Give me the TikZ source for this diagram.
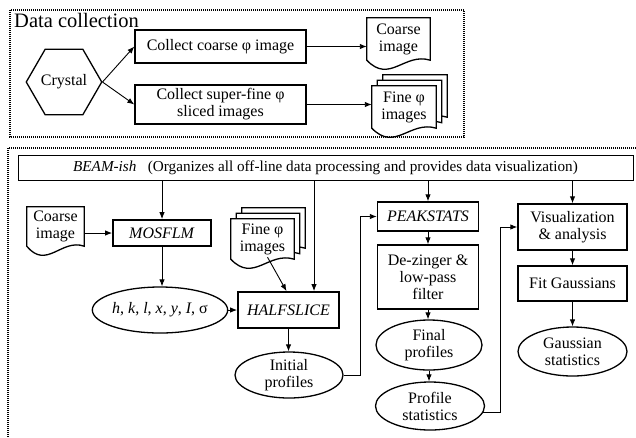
\documentclass[tikz,border=0pt]{standalone}
\usepackage{fontspec}
\setmainfont{Liberation Serif}
\usetikzlibrary{arrows.meta,calc,shapes.geometric,backgrounds}

% sheet with a wavy lower edge around node #1, moved by #2
\newcommand\pagepath[2]{($(#1.north west)+(#2)$) -- ($(#1.north east)+(#2)$) -- ($(#1.south east)+(#2)$) .. controls ($(#1.south)+(#2)+(6,-8)$) and ($(#1.south)+(#2)+(-9,24)$) .. ($(#1.south west)+(#2)$) -- cycle}

\begin{document}
\begin{tikzpicture}[x=1pt,y=-1pt,>={Latex[length=7pt,width=5.5pt]},
  font=\fontsize{16}{17}\selectfont,
  frame/.style={line width=1.3pt,dash pattern=on 1pt off 1pt},
  box/.style={draw,line width=1.4pt,align=center,inner sep=0pt},
  oval/.style={draw,ellipse,line width=1.3pt,align=center,inner sep=0pt},
  page/.style={align=center,inner sep=0pt},
  sheet/.style={draw,fill=white,line width=1.3pt},
  link/.style={->,line width=0.9pt}]

\useasboundingbox (0,0) rectangle (636,437);

% data collection
\draw[frame] (10,10) rectangle (464,137);
\node[anchor=base west,inner sep=0pt,font=\fontsize{20.5}{22}\selectfont] (title) at (14,27) {Data collection};
\node[draw,regular polygon,regular polygon sides=6,minimum size=63pt,inner sep=0pt,line width=1.3pt] (crystal) at (64,82) {Crystal};
\node[box,minimum width=171pt,minimum height=33pt] (coarse) at (220.5,46.5) {Collect coarse φ image};
\node[box,minimum width=171pt,minimum height=39pt] (fine) at (220.5,104.5) {Collect super-fine φ\\sliced images};
\node[page,minimum width=63pt,minimum height=42pt] (cimg) at (398.5,39) {Coarse\\image};
\node[page,minimum width=64pt,minimum height=42pt] (fimg) at (404,107) {Fine φ\\images};

\draw[link] (crystal.east) -- (coarse.west);
\draw[link] (crystal.east) -- (fine.west);
\draw[link] (coarse.east) -- (coarse.east -| cimg.west);
\draw[link] (fine.east) -- (fine.east -| fimg.west);

% off-line processing
\draw[frame] (640,148) -| (8,440);
\node[box,line width=1pt,minimum width=615pt,minimum height=25pt,font=\fontsize{15.2}{17}\selectfont] (beam) at (325.5,167.5) {\textit{BEAM-ish}\hspace{0.5em} (Organizes all off-line data processing and provides data visualization)};
\node[page,minimum width=57pt,minimum height=39pt] (ci2) at (55.5,226.5) {Coarse\\image};
\node[box,line width=1.8pt,minimum width=98pt,minimum height=26pt] (mosflm) at (162,233) {\textit{MOSFLM}};
\node[page,minimum width=63pt,minimum height=40pt] (fi2) at (262.5,239) {Fine φ\\images};
\node[oval,minimum width=117pt,minimum height=46pt] (hkl) at (160,310) {\textit{h}, \textit{k}, \textit{l}, \textit{x}, \textit{y}, \textit{I}, σ};
\node[box,line width=1.8pt,minimum width=101pt,minimum height=36pt] (half) at (288.5,310) {\textit{HALFSLICE}};
\node[oval,minimum width=108pt,minimum height=46pt] (init) at (289,375) {Initial\\profiles};
\node[box,minimum width=101pt,minimum height=29pt] (peak) at (428,216.5) {\textit{PEAKSTATS}};
\node[box,minimum width=101pt,minimum height=64pt] (dez) at (428,277) {De-zinger \&\\low-pass\\filter};
\node[oval,minimum width=106pt,minimum height=50pt] (final) at (429,345) {Final\\profiles};
\node[oval,minimum width=109pt,minimum height=48pt] (prof) at (430,406) {Profile\\statistics};
\node[box,minimum width=109pt,minimum height=46pt] (vis) at (572.5,227) {Visualization\\\& analysis};
\node[box,minimum width=109pt,minimum height=35pt] (fit) at (572.5,283.5) {Fit Gaussians};
\node[oval,minimum width=109pt,minimum height=49pt] (gauss) at (572.5,351.5) {Gaussian\\statistics};

\coordinate (hsin) at ($(half.north)+(25.5,0)$);
\draw[link] (beam.south -| mosflm.north) -- (mosflm.north);
\draw[link] (beam.south -| hsin) -- (hsin);
\draw[link] (beam.south -| peak.north) -- (peak.north);
\draw[link] (beam.south -| vis.north) -- (vis.north);
\draw[link] (ci2.east |- mosflm.west) -- (mosflm.west);
\draw[link] (mosflm.south) -- (mosflm.south |- hkl.north);
\draw[link] ($(fi2.south)+(5,-2)$) -- ($(half.north)+(-2,0)$);
\draw[link] (hkl.east) -- (half.west);
\draw[link] (half.south) -- (half.south |- init.north);
\draw[link] (init.east) -- ++(17,0) |- (peak.west);
\draw[link] (peak.south) -- (dez.north);
\draw[link] (dez.south) -- (dez.south |- final.north);
\draw[link] (final.south) -- (final.south |- prof.north);
\draw[link] (prof.-7) -- ++(17,0) |- (vis.west);
\draw[link] (vis.south) -- (fit.north);
\draw[link] (fit.south) -- (gauss.north);

% the sheets go under their labels
\begin{scope}[on background layer]
  \draw[sheet] \pagepath{cimg}{0,0};
  \draw[sheet] \pagepath{fimg}{11,-11};
  \draw[sheet] \pagepath{fimg}{5.5,-5.5};
  \draw[sheet] \pagepath{fimg}{0,0};
  \draw[sheet] \pagepath{ci2}{0,0};
  \draw[sheet] \pagepath{fi2}{11,-11};
  \draw[sheet] \pagepath{fi2}{5.5,-5.5};
  \draw[sheet] \pagepath{fi2}{0,0};
\end{scope}
\end{tikzpicture}
\end{document}
